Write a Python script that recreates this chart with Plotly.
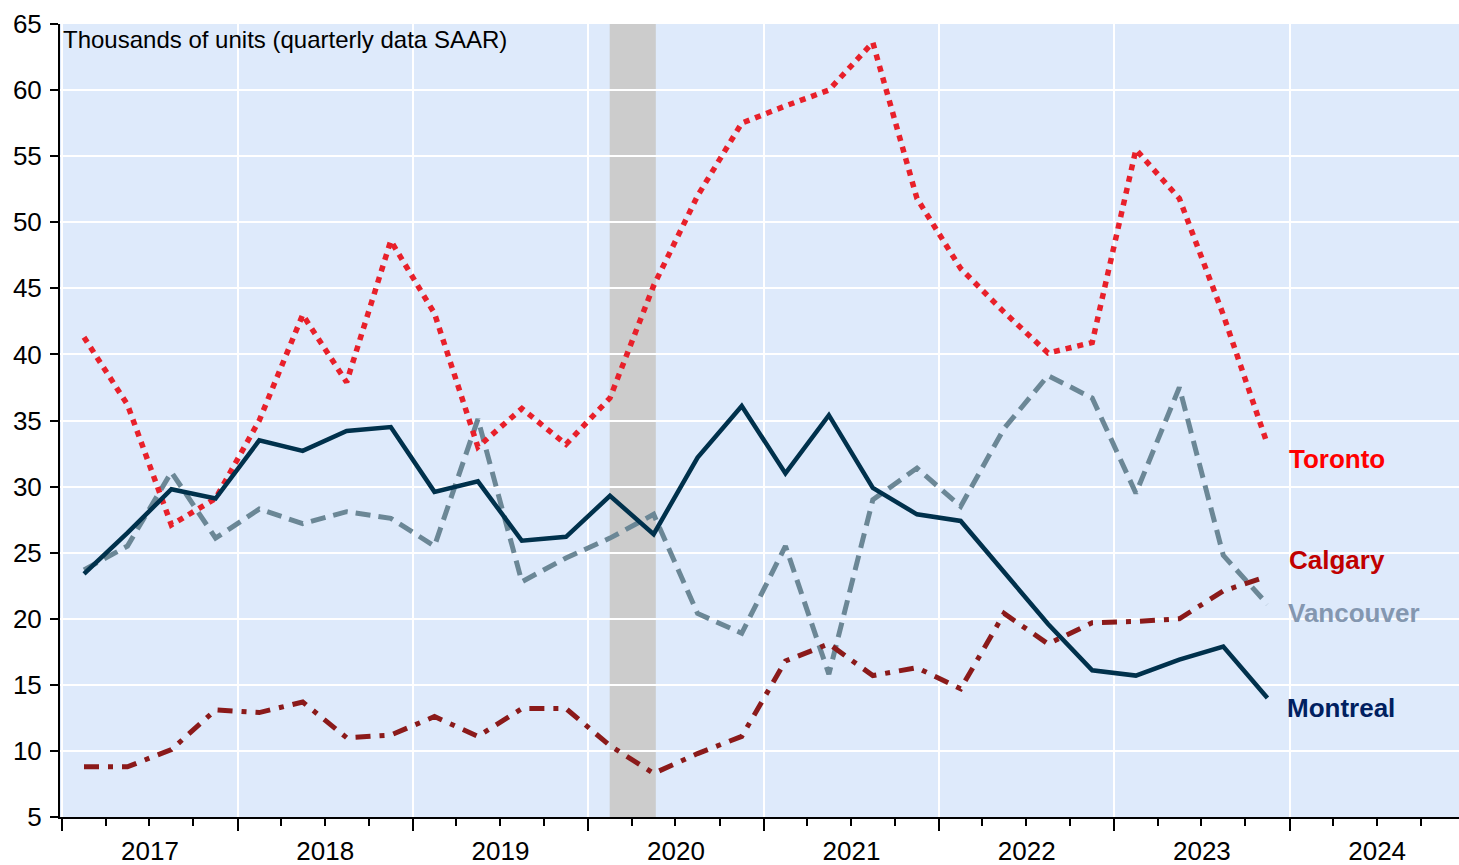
import pandas as pd
import plotly.graph_objects as go

quarters = pd.period_range("2017Q1", "2023Q4", freq="Q")
toronto = [41.3, 36.2, 27.1, 29.1, 35.0, 43.0, 37.9, 48.6, 43.1, 33.0, 35.9, 33.2, 36.7, 45.2,
           52.0, 57.5, 58.8, 60.0, 63.6, 51.8, 46.5, 43.2, 40.1, 40.9, 55.5, 51.8, 43.0, 33.2]
vancouver = [23.7, 25.5, 31.1, 26.1, 28.3, 27.2, 28.1, 27.6, 25.5, 35.1, 22.8, 24.6, 26.1, 27.9,
             20.4, 18.9, 25.5, 15.8, 29.0, 31.4, 28.5, 34.4, 38.4, 36.7, 29.5, 37.5, 24.8, 21.1]
calgary = [8.8, 8.8, 10.1, 13.1, 12.9, 13.7, 11.0, 11.2, 12.6, 11.1, 13.2, 13.2, 10.4, 8.3,
           9.8, 11.1, 16.8, 18.1, 15.7, 16.3, 14.7, 20.4, 18.1, 19.7, 19.8, 20.0, 22.1, 23.2]
montreal = [23.4, 26.5, 29.8, 29.1, 33.5, 32.7, 34.2, 34.5, 29.6, 30.4, 25.9, 26.2, 29.3, 26.4,
            32.2, 36.1, 31.0, 35.4, 29.9, 27.9, 27.4, 23.5, 19.6, 16.1, 15.7, 16.9, 17.9, 14.0]
recession = ["2020-02-15", "2020-05-21"]
x_range = ["2016-12-27", "2024-12-19"]
y_ticks = list(range(5, 70, 5))

x = [p.start_time + (p.end_time - p.start_time) / 2 for p in quarters]

series = [
    ("Vancouver", vancouver, "#6b8796", "15px,8px", 5),
    ("Calgary", calgary, "#8b1a1a", "15px,9px,5px,9px", 5),
    ("Toronto", toronto, "#e8202a", "6px,6px", 5.5),
    ("Montreal", montreal, "#00314c", "solid", 4.5),
]

fig = go.Figure()
for name, vals, color, dash, w in series:
    fig.add_trace(go.Scatter(x=x, y=vals, mode="lines", name=name,
                             line=dict(color=color, width=w, dash=dash)))

fig.add_shape(type="rect", xref="x", yref="paper", x0=recession[0], x1=recession[1],
              y0=0, y1=1, fillcolor="#cccccc", line=dict(width=0), layer="below")

labels = [
    ("Toronto", "2024-01-02", 32.1, "#ff0000"),
    ("Calgary", "2024-01-03", 24.45, "#c00000"),
    ("Vancouver", "2023-12-30", 20.4, "#8497b0"),
    ("Montreal", "2023-12-29", 13.25, "#002060"),
]
for txt, lx, ly, col in labels:
    fig.add_annotation(x=lx, y=ly, xref="x", yref="y", text=f"<b>{txt}</b>", showarrow=False,
                       xanchor="left", yanchor="middle", xshift=-3,
                       font=dict(family="Liberation Sans, Arial", size=26, color=col))

fig.add_annotation(x=0, y=1, xref="paper", yref="paper", xanchor="left", yanchor="top",
                   xshift=1, yshift=0, showarrow=False,
                   text="Thousands of units (quarterly data SAAR)",
                   font=dict(family="Liberation Sans, Arial", size=24, color="#000000"))

fig.update_layout(
    width=1459, height=865,
    margin=dict(l=60, r=0, t=24, b=48, autoexpand=False),
    paper_bgcolor="#ffffff", plot_bgcolor="#deeafb",
    showlegend=False,
    font=dict(family="Liberation Sans, Arial", size=24, color="#000000"),
)
fig.update_xaxes(
    type="date", range=x_range, dtick="M12", tick0="2017-01-01", tickformat="%Y",
    ticklabelmode="period", showgrid=True, gridcolor="#ffffff", gridwidth=2,
    ticks="outside", ticklen=12, tickwidth=2, tickcolor="#000000",
    showline=True, linecolor="#000000", linewidth=2, zeroline=False, automargin=False,
    minor=dict(dtick="M3", ticks="outside", ticklen=7, tickwidth=2, tickcolor="#000000", showgrid=False),
    tickfont=dict(size=26), ticklabelstandoff=-2,
)
fig.update_yaxes(
    range=[5, 65], tickvals=y_ticks, showgrid=True, gridcolor="#ffffff", gridwidth=2,
    ticks="outside", ticklen=8, tickwidth=2, tickcolor="#000000",
    showline=True, linecolor="#000000", linewidth=2, zeroline=False, automargin=False,
    tickfont=dict(size=26), ticklabelstandoff=3,
)

fig.write_html("out.html", config={"displayModeBar": False},
               post_script="document.body.style.margin='0';document.body.style.overflow='hidden';")
